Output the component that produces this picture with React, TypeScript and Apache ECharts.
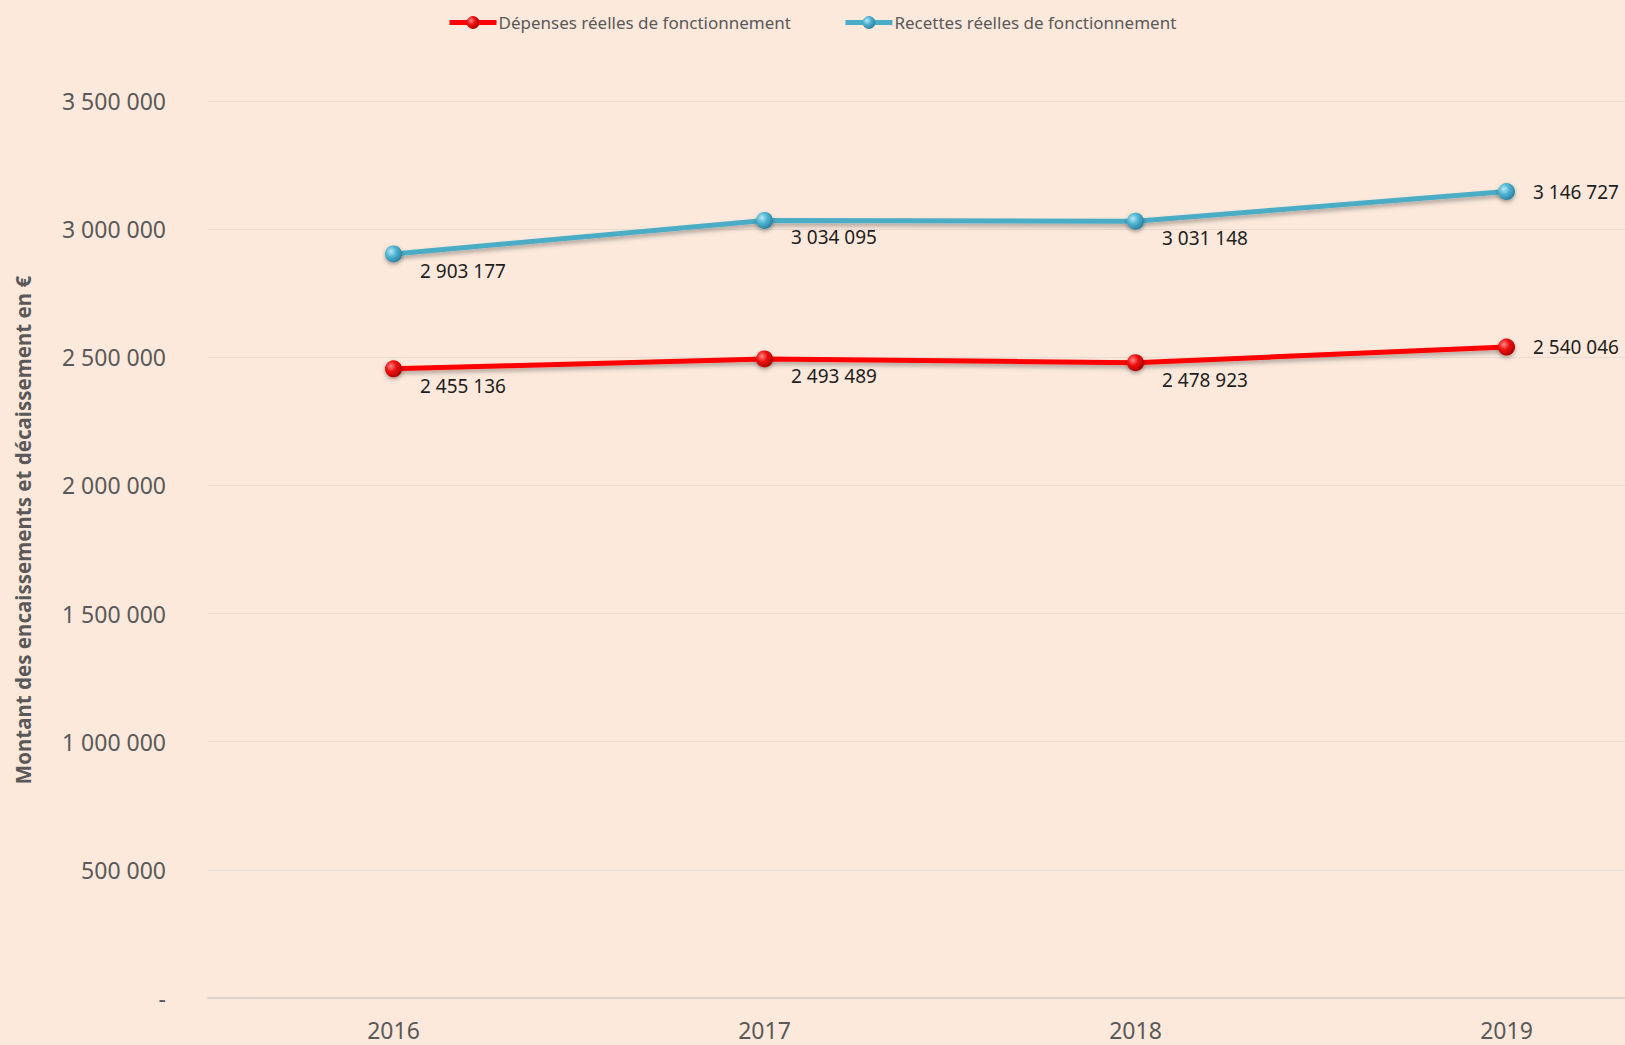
import React, { useEffect, useRef } from "react";
import * as echarts from "echarts";

const years = ["2016", "2017", "2018", "2019"];
const depenses = [2455136, 2493489, 2478923, 2540046];
const recettes = [2903177, 3034095, 3031148, 3146727];
const seriesNames = ["Dépenses réelles de fonctionnement", "Recettes réelles de fonctionnement"];
const axisTitle = "Montant des encaissements et décaissement en €";

const fmt = (v: number) => (v === 0 ? "-" : String(Math.round(v)).replace(/\B(?=(\d{3})+(?!\d))/g, " "));

const FONT = '"Noto Sans", "Open Sans", sans-serif';

function pointData(values: number[]) {
  return values.map((v, i) => ({
    value: v,
    label: i === values.length - 1 ? { offset: [0, 0] } : { offset: [0, 17] },
  }));
}

export default function App() {
  const ref = useRef<HTMLDivElement>(null);
  useEffect(() => {
    document.body.style.margin = "0";
    const chart = echarts.init(ref.current!, null, { renderer: "svg" });
    const redGrad = new echarts.graphic.RadialGradient(0.35, 0.35, 0.7, [
      { offset: 0, color: "#ff8a8a" },
      { offset: 0.45, color: "#f01010" },
      { offset: 1, color: "#a80000" },
    ]);
    const blueGrad = new echarts.graphic.RadialGradient(0.35, 0.35, 0.7, [
      { offset: 0, color: "#b8e8f6" },
      { offset: 0.45, color: "#4fb4d3" },
      { offset: 1, color: "#2a7f9c" },
    ]);
    const labelStyle = {
      show: true,
      position: "right" as const,
      distance: 18,
      color: "#1e1e1e",
      fontSize: 19,
      fontFamily: FONT,
      formatter: (p: any) => fmt(p.value),
    };
    chart.setOption({
      animation: false,
      backgroundColor: "#FCE9DC",
      textStyle: { fontFamily: FONT },
      legend: {
        left: 442,
        top: 9,
        itemWidth: 47,
        itemHeight: 16,
        itemGap: 52,
        lineStyle: { width: 5 },
        textStyle: { color: "#595959", fontSize: 17, fontFamily: FONT, padding: [0, 0, 0, -3] },
        data: seriesNames,
      },
      grid: { left: 208, top: 101, width: 1484, height: 897, containLabel: false, outerBoundsMode: "none" },
      xAxis: {
        type: "category",
        data: years,
        boundaryGap: true,
        axisTick: { show: false },
        axisLine: { show: true, lineStyle: { color: "#D8CCC3", width: 1.5 } },
        axisLabel: { color: "#595959", fontSize: 23, fontFamily: FONT, margin: 20 },
      },
      yAxis: {
        type: "value",
        min: 0,
        max: 3500000,
        interval: 500000,
        axisLine: { show: false },
        axisTick: { show: false },
        splitLine: { lineStyle: { color: "#E9DCD2", width: 1.2 } },
        axisLabel: { color: "#595959", fontSize: 23, fontFamily: FONT, margin: 42, formatter: (v: number) => fmt(v) },
      },
      graphic: [
        {
          type: "text",
          x: 23,
          y: 530,
          rotation: Math.PI / 2,
          style: {
            text: axisTitle,
            fill: "#595959",
            font: `bold 20.5px ${FONT}`,
            align: "center",
            verticalAlign: "middle",
          },
        },
      ],
      series: [
        {
          name: seriesNames[0],
          type: "line",
          data: pointData(depenses),
          symbol: "circle",
          symbolSize: 17,
          color: "#FF0000",
          lineStyle: { color: "#FF0000", width: 5, shadowColor: "rgba(0,0,0,0.3)", shadowBlur: 4, shadowOffsetY: 3 },
          itemStyle: { color: redGrad, borderWidth: 0, shadowColor: "rgba(0,0,0,0.35)", shadowBlur: 4, shadowOffsetY: 2 },
          label: labelStyle,
        },
        {
          name: seriesNames[1],
          type: "line",
          data: pointData(recettes),
          symbol: "circle",
          symbolSize: 17,
          color: "#4BACC6",
          lineStyle: { color: "#4BACC6", width: 5, shadowColor: "rgba(0,0,0,0.3)", shadowBlur: 4, shadowOffsetY: 3 },
          itemStyle: { color: blueGrad, borderWidth: 0, shadowColor: "rgba(0,0,0,0.35)", shadowBlur: 4, shadowOffsetY: 2 },
          label: labelStyle,
        },
      ],
    });
    return () => chart.dispose();
  }, []);
  return <div ref={ref} style={{ width: 1625, height: 1045 }} />;
}
